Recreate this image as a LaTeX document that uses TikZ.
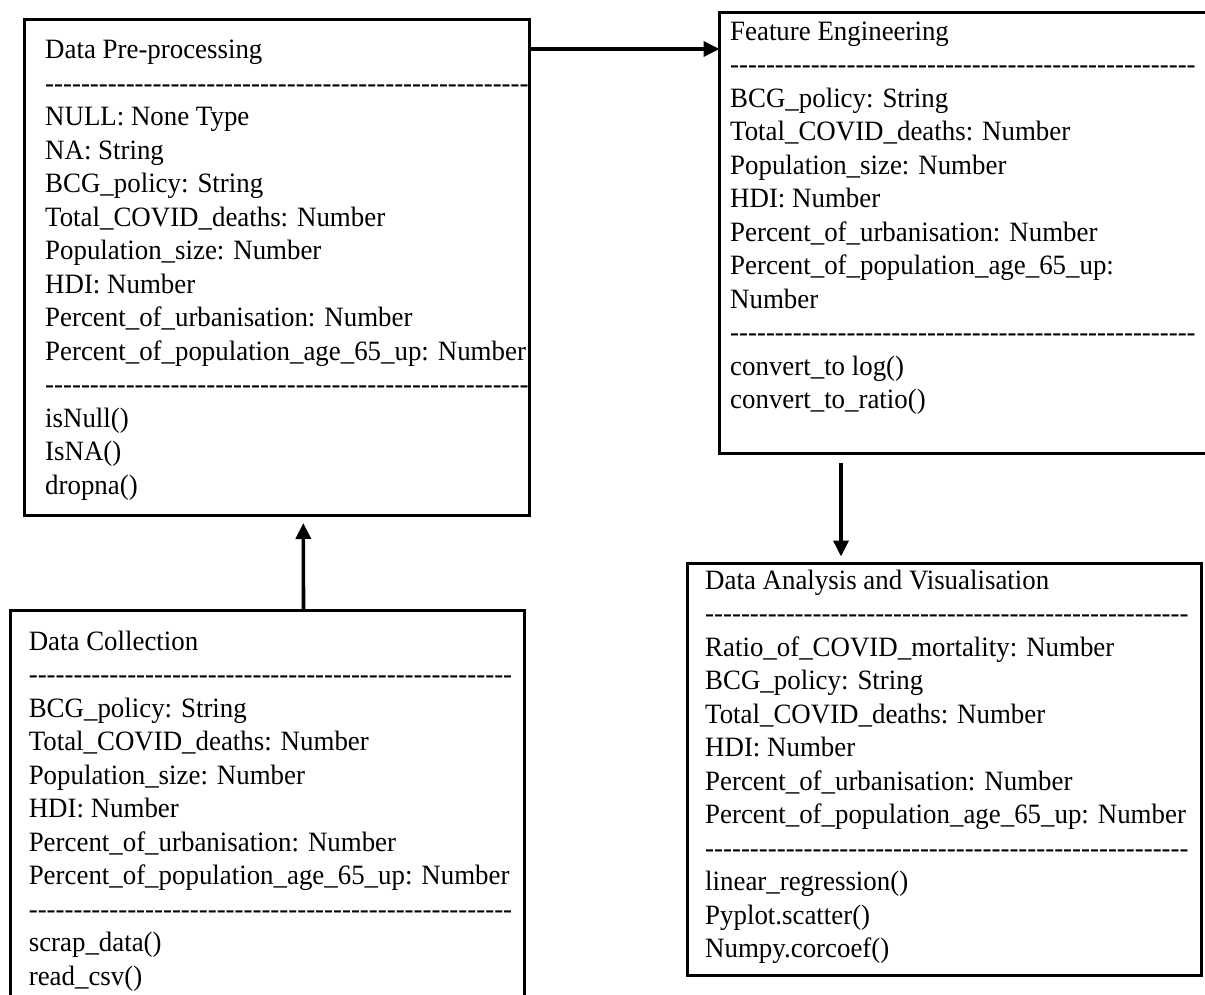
\documentclass[tikz,border=0pt]{standalone}
\usepackage{fontspec}
\setmainfont{Liberation Serif}
\usepackage{graphicx}
\usetikzlibrary{arrows.meta,calc}
\newcommand{\umlln}[1]{\hbox{#1}}
\newcommand{\umlrule}[1]{\hbox to #1{\leaders\hbox{-}\hfill}}
\newcommand{\umllines}[1]{\scalebox{0.96}[1]{\vtop{\fontsize{28}{33.5}\selectfont\baselineskip=33.5pt\lineskiplimit=-\maxdimen\lineskip=0pt #1}}}
\begin{document}
\begin{tikzpicture}[x=1pt,y=-1pt,
  box/.style={draw, line width=3pt, rectangle, inner sep=0pt, outer sep=0pt, anchor=north west},
  arr/.style={line width=3.6pt, -{Triangle[length=16pt,width=15pt]}},
  txt/.style={inner sep=0pt, anchor=base west}]
\useasboundingbox (0,0) rectangle (1205,995);
\clip (0,0) rectangle (1205,995);

\node[box, minimum width=505.5pt, minimum height=496pt] (pre) at (24,19.5) {};
\node[box, minimum width=500pt, minimum height=440.5pt] (fe) at (719.5,12.5) {};
\node[box, minimum width=514pt, minimum height=400pt] (dc) at (10.5,610) {};
\node[box, minimum width=514.5pt, minimum height=412pt] (dav) at (687,563.5) {};

\node[txt] (pretxt) at (45,59) {\umllines{%
\umlln{Data Pre-processing}
\umlrule{506pt}
\umlln{NULL: None Type}
\umlln{NA: String}
\umlln{BCG\_policy: String}
\umlln{Total\_COVID\_deaths: Number}
\umlln{Population\_size: Number}
\umlln{HDI: Number}
\umlln{Percent\_of\_urbanisation: Number}
\umlln{Percent\_of\_population\_age\_65\_up: Number}
\umlrule{506pt}
\umlln{isNull()}
\umlln{IsNA()}
\umlln{dropna()}}};

\node[txt] (fetxt) at (730,40.5) {\umllines{%
\umlln{Feature Engineering}
\umlrule{492pt}
\umlln{BCG\_policy: String}
\umlln{Total\_COVID\_deaths: Number}
\umlln{Population\_size: Number}
\umlln{HDI: Number}
\umlln{Percent\_of\_urbanisation: Number}
\umlln{Percent\_of\_population\_age\_65\_up:}
\umlln{Number}
\umlrule{492pt}
\umlln{convert\_to log()}
\umlln{convert\_to\_ratio()}}};

\node[txt] (dctxt) at (28.6,650) {\umllines{%
\umlln{Data Collection}
\umlrule{512.5pt}
\umlln{BCG\_policy: String}
\umlln{Total\_COVID\_deaths: Number}
\umlln{Population\_size: Number}
\umlln{HDI: Number}
\umlln{Percent\_of\_urbanisation: Number}
\umlln{Percent\_of\_population\_age\_65\_up: Number}
\umlrule{512.5pt}
\umlln{scrap\_data()}
\umlln{read\_csv()}}};

\node[txt] (davtxt) at (705,589) {\umllines{%
\umlln{Data Analysis and Visualisation}
\umlrule{512.5pt}
\umlln{Ratio\_of\_COVID\_mortality: Number}
\umlln{BCG\_policy: String}
\umlln{Total\_COVID\_deaths: Number}
\umlln{HDI: Number}
\umlln{Percent\_of\_urbanisation: Number}
\umlln{Percent\_of\_population\_age\_65\_up: Number}
\umlrule{512.5pt}
\umlln{linear\_regression()}
\umlln{Pyplot.scatter()}
\umlln{Numpy.corcoef()}}};

\path (pre.north east) ++(0,29.5) coordinate (a1);
\draw[arr] (a1) -- (a1 -| fe.west);
\draw[arr] ($(fe.south west)+(121.5,10)$) -- ($(dav.north west)+(154,-7)$);
\draw[arr] ($(dc.north west)+(293,0)$) -- ($(pre.south west)+(279.3,7.5)$);
\end{tikzpicture}
\end{document}
